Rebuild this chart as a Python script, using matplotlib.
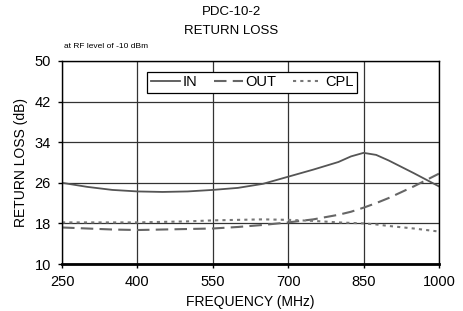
import numpy as np
import matplotlib.pyplot as plt

plt.rcParams['font.family'] = ['Liberation Sans', 'DejaVu Sans']

# Values
freq = [250, 300, 350, 400, 450, 500, 550, 600, 650, 700, 750, 800, 825, 850, 875, 900, 950, 1000]
rl_in = [26.0, 25.2, 24.6, 24.3, 24.2, 24.3, 24.6, 25.0, 25.8, 27.2, 28.6, 30.1, 31.2, 31.9, 31.5, 30.4, 27.9, 25.3]
rl_out = [17.2, 17.0, 16.8, 16.7, 16.8, 16.9, 17.0, 17.3, 17.7, 18.2, 18.8, 19.7, 20.3, 21.1, 22.0, 23.0, 25.3, 27.8]
rl_cpl = [18.2, 18.2, 18.2, 18.2, 18.3, 18.4, 18.6, 18.7, 18.8, 18.7, 18.5, 18.2, 18.1, 18.0, 17.8, 17.5, 17.0, 16.4]

x_ticks = [250, 400, 550, 700, 850, 1000]
y_ticks = [10, 18, 26, 34, 42, 50]

fig = plt.figure(figsize=(4.63, 3.11), dpi=100)
ax = fig.add_axes([0.134, 0.151, 0.814, 0.653])

ax.plot(freq, rl_in, color='#555555', linewidth=1.3, label='IN')
ax.plot(freq, rl_out, color='#666666', linewidth=1.5, linestyle=(0, (6, 3)), label='OUT')
ax.plot(freq, rl_cpl, color='#777777', linewidth=1.5, linestyle=(0, (1.5, 2)), label='CPL')

ax.set_xlim(250, 1000)
ax.set_ylim(10, 50)
ax.set_xticks(x_ticks)
ax.set_yticks(y_ticks)
ax.tick_params(labelsize=10.5, length=3, width=1, direction='out', pad=5)
ax.grid(True, color='#333333', linewidth=0.9)
for s in ax.spines.values():
    s.set_color('black')
    s.set_linewidth(1)
ax.spines['bottom'].set_linewidth(2)

ax.set_xlabel('FREQUENCY (MHz)', fontsize=10, labelpad=4)
ax.set_ylabel('RETURN LOSS (dB)', fontsize=10, labelpad=5)

leg = ax.legend(loc='upper center', bbox_to_anchor=(0.504, 0.948), ncol=3, fontsize=10.5,
                frameon=True, fancybox=False, framealpha=1, edgecolor='black',
                handlelength=2.0, handletextpad=0.2, columnspacing=1.1,
                borderpad=0.25, borderaxespad=0)
leg.get_frame().set_linewidth(0.9)

fig.text(0.5, 0.96, 'PDC-10-2', ha='center', va='center', fontsize=9.5)
fig.text(0.5, 0.90, 'RETURN LOSS', ha='center', va='center', fontsize=9.5)
fig.text(0.138, 0.85, 'at RF level of -10 dBm', ha='left', va='center', fontsize=6)

fig.savefig('out.png', dpi=100)
